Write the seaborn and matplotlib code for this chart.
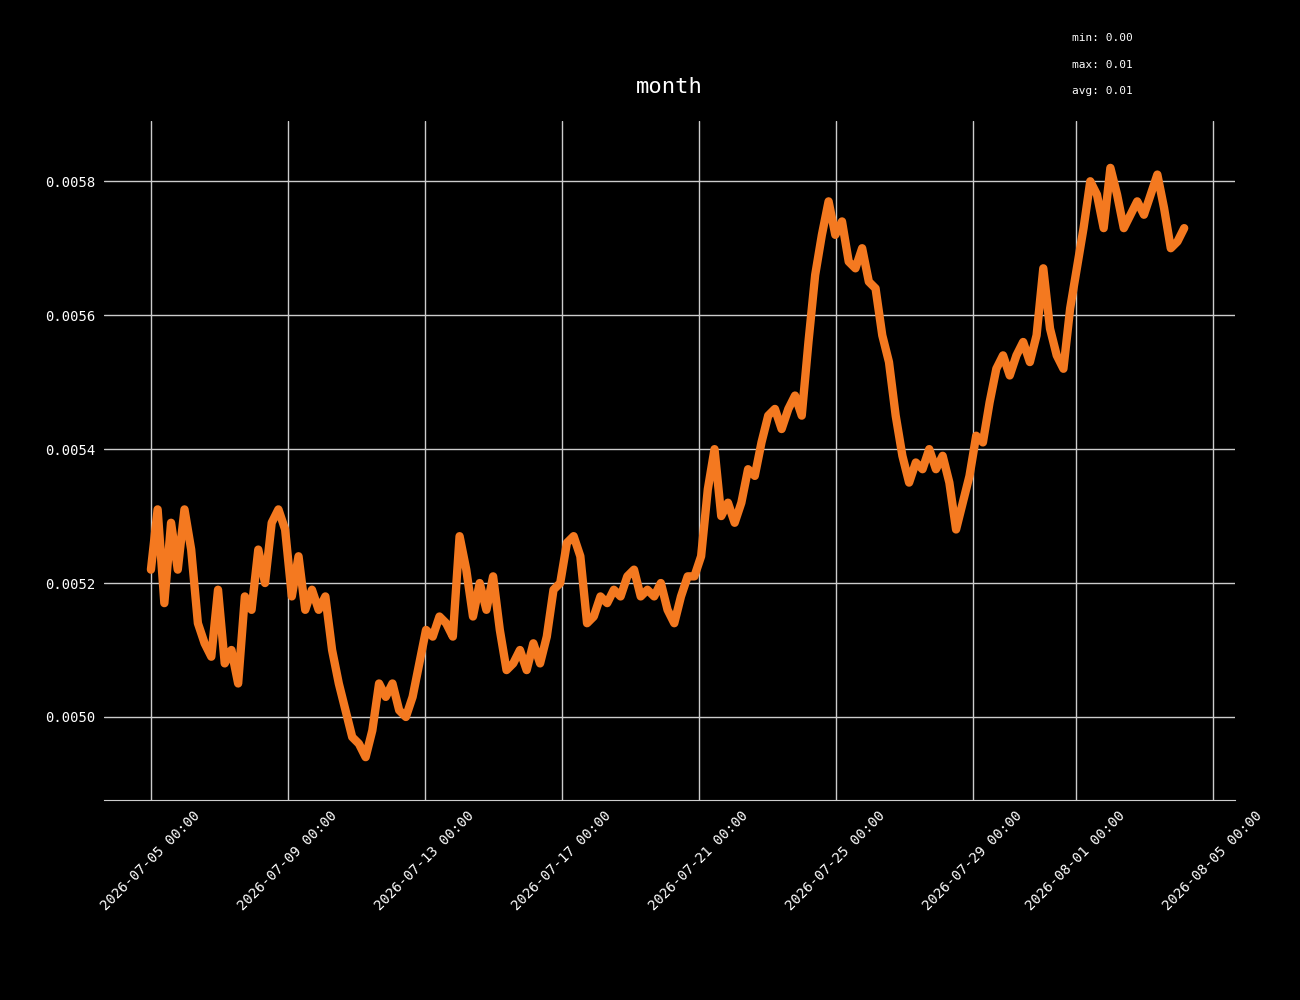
#Monthly price trace, dark style
import pandas as pd
import seaborn as sns
import matplotlib
matplotlib.use('Agg')
import matplotlib.pyplot as plt

#Values, roughly evenly spaced in time
values = [0.00522, 0.00531, 0.00517, 0.00529, 0.00522, 0.00531, 0.00525, 0.00514, 0.00511, 0.00509,
          0.00519, 0.00508, 0.00510, 0.00505, 0.00518, 0.00516, 0.00525, 0.00520, 0.00529, 0.00531,
          0.00528, 0.00518, 0.00524, 0.00516, 0.00519, 0.00516, 0.00518, 0.00510, 0.00505, 0.00501,
          0.00497, 0.00496, 0.00494, 0.00498, 0.00505, 0.00503, 0.00505, 0.00501, 0.00500, 0.00503,
          0.00508, 0.00513, 0.00512, 0.00515, 0.00514, 0.00512, 0.00527, 0.00522, 0.00515, 0.00520,
          0.00516, 0.00521, 0.00513, 0.00507, 0.00508, 0.00510, 0.00507, 0.00511, 0.00508, 0.00512,
          0.00519, 0.00520, 0.00526, 0.00527, 0.00524, 0.00514, 0.00515, 0.00518, 0.00517, 0.00519,
          0.00518, 0.00521, 0.00522, 0.00518, 0.00519, 0.00518, 0.00520, 0.00516, 0.00514, 0.00518,
          0.00521, 0.00521, 0.00524, 0.00534, 0.00540, 0.00530, 0.00532, 0.00529, 0.00532, 0.00537,
          0.00536, 0.00541, 0.00545, 0.00546, 0.00543, 0.00546, 0.00548, 0.00545, 0.00556, 0.00566,
          0.00572, 0.00577, 0.00572, 0.00574, 0.00568, 0.00567, 0.00570, 0.00565, 0.00564, 0.00557,
          0.00553, 0.00545, 0.00539, 0.00535, 0.00538, 0.00537, 0.00540, 0.00537, 0.00539, 0.00535,
          0.00528, 0.00532, 0.00536, 0.00542, 0.00541, 0.00547, 0.00552, 0.00554, 0.00551, 0.00554,
          0.00556, 0.00553, 0.00557, 0.00567, 0.00558, 0.00554, 0.00552, 0.00561, 0.00567, 0.00573,
          0.00580, 0.00578, 0.00573, 0.00582, 0.00578, 0.00573, 0.00575, 0.00577, 0.00575, 0.00578,
          0.00581, 0.00576, 0.00570, 0.00571, 0.00573]
start = '2026-07-05 00:00'
end = '2026-08-04 04:00'
tick_dates = ['2026-07-05', '2026-07-09', '2026-07-13', '2026-07-17', '2026-07-21',
              '2026-07-25', '2026-07-29', '2026-08-01', '2026-08-05']
stats_text = ['min: 0.00', 'max: 0.01', 'avg: 0.01']

df = pd.DataFrame({'time': pd.date_range(start, end, periods=len(values)), 'value': values})

sns.set_style('dark')
plt.rcParams['font.family'] = ['DejaVu Sans Mono']

fig = plt.figure(figsize=(13, 10), dpi=100, facecolor='black')
ax = fig.add_axes([0.08, 0.2, 0.87, 0.679])
ax.set_facecolor('black')

sns.lineplot(data=df, x='time', y='value', ax=ax, color='#f47920', linewidth=6)

ticks = pd.to_datetime(tick_dates)
ax.set_xticks(ticks)
ax.set_xticklabels([t.strftime('%Y-%m-%d %H:%M') for t in ticks], rotation=45,
                   ha='center', color='white', fontsize=10)
ax.set_yticks([0.0050, 0.0052, 0.0054, 0.0056, 0.0058])
ax.set_yticklabels(['0.0050', '0.0052', '0.0054', '0.0056', '0.0058'], color='white', fontsize=10)
ax.set_xlim(pd.Timestamp(start) - pd.Timedelta(days=1.37), pd.Timestamp(start) + pd.Timedelta(days=31.65))
ax.set_ylim(0.004876, 0.00589)
ax.grid(True, color='#cccccc', linewidth=1)
ax.tick_params(length=0, pad=6)
ax.set_xlabel('')
ax.set_ylabel('')
for s in ['left', 'right', 'top']:
    ax.spines[s].set_visible(False)
ax.spines['bottom'].set_color('#cccccc')

ax.set_title('month', color='white', fontsize=16, pad=20)
for i, t in enumerate(stats_text):
    fig.text(0.825, 0.962 - i * 0.0265, t, color='white', fontsize=8, va='center')

fig.savefig('out.png', facecolor='black')
